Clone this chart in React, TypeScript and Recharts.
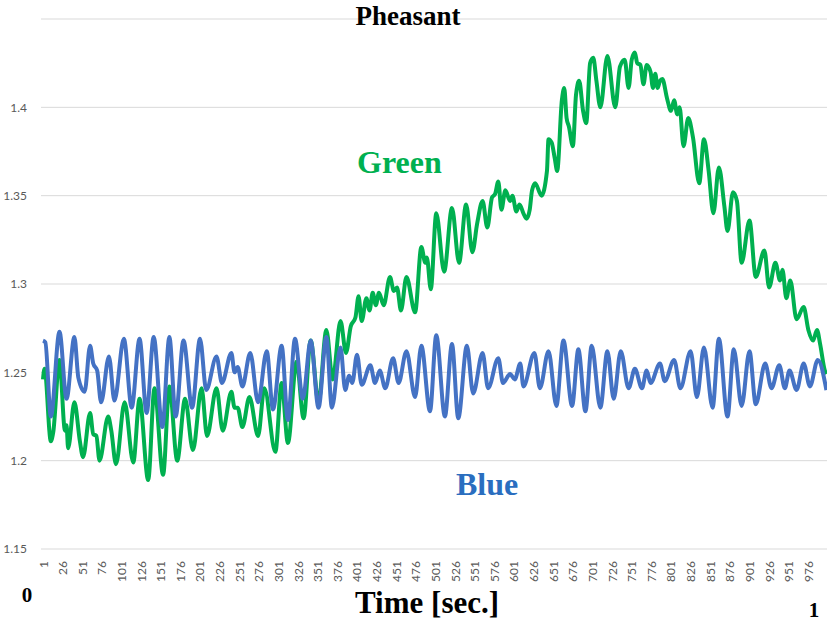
import React from 'react';
import { LineChart, Line, XAxis, YAxis, CartesianGrid } from 'recharts';

const blueTime = [
  1, 4, 11, 22, 31, 41, 46, 54, 61, 65, 70, 75, 85, 92, 104, 114, 124, 133, 142, 153,
  162, 170, 180, 191, 201, 209, 222, 229, 241, 245, 249, 255, 265, 275, 286, 294, 305, 313, 322, 332,
  342, 352, 362, 369, 380, 386, 391, 395, 401, 407, 418, 424, 430, 437, 447, 454, 464, 475, 483, 494,
  502, 513, 522, 530, 541, 549, 561, 568, 581, 587, 596, 602, 609, 613, 627, 634, 645, 655, 664, 675,
  683, 692, 700, 711, 720, 728, 737, 747, 755, 764, 770, 775, 787, 793, 805, 813, 826, 834, 843, 854,
  862, 873, 881, 891, 901, 909, 921, 929, 939, 946, 952, 961, 970, 978, 988, 999,
];
const blueValue = [
  1.268, 1.267, 1.225, 1.273, 1.235, 1.27, 1.247, 1.239, 1.265, 1.255, 1.251, 1.233, 1.259, 1.234, 1.269, 1.23, 1.269, 1.227, 1.27, 1.219,
  1.27, 1.225, 1.268, 1.23, 1.269, 1.24, 1.259, 1.244, 1.261, 1.25, 1.253, 1.242, 1.261, 1.233, 1.262, 1.229, 1.265, 1.223, 1.269, 1.235,
  1.268, 1.23, 1.27, 1.23, 1.264, 1.24, 1.248, 1.244, 1.26, 1.243, 1.254, 1.244, 1.251, 1.241, 1.258, 1.244, 1.262, 1.236, 1.265, 1.228,
  1.271, 1.225, 1.266, 1.224, 1.265, 1.238, 1.261, 1.241, 1.258, 1.244, 1.249, 1.246, 1.255, 1.242, 1.261, 1.241, 1.262, 1.231, 1.268, 1.231,
  1.263, 1.228, 1.265, 1.23, 1.262, 1.235, 1.262, 1.241, 1.252, 1.241, 1.251, 1.244, 1.255, 1.245, 1.257, 1.241, 1.262, 1.236, 1.264, 1.23,
  1.269, 1.225, 1.263, 1.231, 1.262, 1.232, 1.255, 1.241, 1.254, 1.241, 1.251, 1.24, 1.255, 1.242, 1.257, 1.24,
];

const greenTime = [
  1, 3, 11, 14, 22, 29, 31, 33, 41, 48, 52, 61, 65, 69, 73, 84, 88, 94, 105, 116,
  124, 135, 143, 154, 162, 172, 182, 192, 203, 210, 222, 230, 241, 245, 249, 255, 264, 275, 283, 297,
  305, 313, 324, 333, 342, 352, 362, 370, 380, 387, 393, 399, 403, 407, 413, 417, 421, 425, 429, 435,
  443, 448, 452, 457, 464, 475, 483, 488, 490, 495, 502, 512, 522, 531, 540, 548, 554, 561, 567, 573,
  577, 581, 585, 590, 596, 599, 604, 608, 613, 617, 621, 624, 628, 636, 643, 645, 649, 653, 656, 662,
  665, 668, 671, 676, 680, 684, 689, 693, 698, 702, 706, 711, 720, 730, 736, 742, 747, 751, 755, 758,
  762, 766, 770, 775, 778, 781, 784, 787, 790, 796, 801, 805, 809, 812, 817, 823, 829, 837, 843, 849,
  855, 862, 869, 873, 880, 885, 891, 901, 909, 920, 926, 934, 940, 943, 948, 953, 961, 970, 976, 982,
  987, 991, 997, 999,
];
const greenValue = [
  1.246, 1.252, 1.211, 1.216, 1.257, 1.217, 1.22, 1.207, 1.233, 1.211, 1.202, 1.227, 1.215, 1.214, 1.2, 1.225, 1.217, 1.198, 1.233, 1.199,
  1.235, 1.189, 1.241, 1.192, 1.242, 1.2, 1.235, 1.206, 1.241, 1.214, 1.241, 1.217, 1.239, 1.23, 1.23, 1.219, 1.236, 1.214, 1.241, 1.205,
  1.244, 1.21, 1.256, 1.224, 1.268, 1.233, 1.274, 1.246, 1.279, 1.261, 1.276, 1.281, 1.293, 1.279, 1.292, 1.285, 1.295, 1.288, 1.295, 1.288,
  1.304, 1.296, 1.298, 1.285, 1.304, 1.284, 1.321, 1.312, 1.315, 1.297, 1.34, 1.307, 1.343, 1.312, 1.345, 1.318, 1.334, 1.347, 1.332, 1.349,
  1.351, 1.358, 1.342, 1.353, 1.347, 1.35, 1.341, 1.345, 1.34, 1.337, 1.342, 1.353, 1.357, 1.35, 1.364, 1.382, 1.38, 1.371, 1.364, 1.404,
  1.411, 1.394, 1.389, 1.378, 1.407, 1.415, 1.398, 1.391, 1.425, 1.428, 1.415, 1.4, 1.429, 1.4, 1.423, 1.427, 1.411, 1.427, 1.431, 1.425,
  1.424, 1.413, 1.424, 1.42, 1.411, 1.419, 1.411, 1.415, 1.416, 1.405, 1.398, 1.404, 1.396, 1.4, 1.378, 1.394, 1.383, 1.357, 1.382, 1.364,
  1.34, 1.366, 1.344, 1.33, 1.352, 1.347, 1.312, 1.336, 1.304, 1.319, 1.298, 1.312, 1.302, 1.308, 1.292, 1.302, 1.28, 1.287, 1.274, 1.268,
  1.274, 1.266, 1.251, 1.249,
];

const xTicks = [
  1, 26, 51, 76, 101, 126, 151, 176, 201, 226, 251, 276, 301, 326, 351, 376, 401, 426, 451, 476,
  501, 526, 551, 576, 601, 626, 651, 676, 701, 726, 751, 776, 801, 826, 851, 876, 901, 926, 951, 976,
];
const yTicks = [1.15, 1.2, 1.25, 1.3, 1.35, 1.4];

const toRows = (t: number[], v: number[]) => t.map((time, i) => ({ time, value: v[i] }));
const blueRows = toRows(blueTime, blueValue);
const greenRows = toRows(greenTime, greenValue);

const tickFont = 'Lato, "Open Sans", sans-serif';
const serif = '"Liberation Serif", "Times New Roman", serif';

const XTick = ({ x, y, payload }: any) => {
  const ty = y + 10;
  return (
    <text
      x={x}
      y={ty}
      transform={`rotate(-90 ${x} ${ty})`}
      textAnchor="end"
      dominantBaseline="central"
      fontFamily={tickFont}
      fontSize={12}
      fill="#595959"
    >
      {payload.value}
    </text>
  );
};

export default function App() {
  return (
    <div style={{ position: 'absolute', left: 0, top: 0, width: 827, height: 625, background: '#fff' }}>
      <LineChart width={827} height={625} margin={{ top: 19, right: 0, left: 0, bottom: 36 }}>
        <CartesianGrid vertical={false} stroke="#d9d9d9" strokeWidth={1} />
        <XAxis
          dataKey="time"
          type="number"
          domain={[-1.55, 999.75]}
          ticks={xTicks}
          interval={0}
          allowDataOverflow
          axisLine={false}
          tickLine={false}
          tickSize={0}
          height={40}
          tick={<XTick />}
        />
        <YAxis
          type="number"
          domain={[1.15, 1.45]}
          ticks={yTicks}
          allowDataOverflow
          width={41}
          axisLine={false}
          tickLine={false}
          tickSize={0}
          tickMargin={14}
          tickFormatter={(v: number) => String(v)}
          tick={{ fontFamily: tickFont, fontSize: 12, fill: '#595959' }}
        />
        <Line
          data={greenRows}
          dataKey="value"
          type="monotone"
          stroke="#00b050"
          strokeWidth={4}
          strokeLinejoin="round"
          dot={false}
          isAnimationActive={false}
        />
        <Line
          data={blueRows}
          dataKey="value"
          type="monotone"
          stroke="#4472c4"
          strokeWidth={4}
          strokeLinejoin="round"
          dot={false}
          isAnimationActive={false}
        />
      </LineChart>
      <svg width={827} height={625} style={{ position: 'absolute', left: 0, top: 0, pointerEvents: 'none' }}>
        <text x={408} y={25} textAnchor="middle" fontFamily={serif} fontWeight="bold" fontSize={27} fill="#000">
          Pheasant
        </text>
        <text x={357} y={173} fontFamily={serif} fontWeight="bold" fontSize={32} fill="#00b050">
          Green
        </text>
        <text x={456} y={495} fontFamily={serif} fontWeight="bold" fontSize={32} fill="#2a6ebf">
          Blue
        </text>
        <text x={355} y={613} fontFamily={serif} fontWeight="bold" fontSize={31} fill="#000">
          Time [sec.]
        </text>
        <text x={27} y={602} textAnchor="middle" fontFamily={serif} fontWeight="bold" fontSize={21} fill="#000">
          0
        </text>
        <text x={814} y={617} textAnchor="middle" fontFamily={serif} fontWeight="bold" fontSize={21} fill="#000">
          1
        </text>
      </svg>
    </div>
  );
}
